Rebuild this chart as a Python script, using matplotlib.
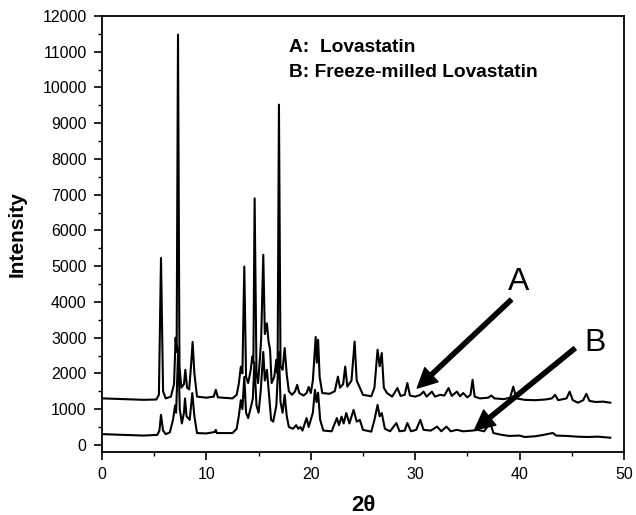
import matplotlib
matplotlib.use("Agg")
import matplotlib.pyplot as plt

# 2theta / intensity, curve A (lovastatin)
theta_a = [0.1, 2.0, 4.0, 5.2, 5.45, 5.65, 5.85, 6.1, 6.6, 6.9, 7.05, 7.15, 7.28, 7.42, 7.6,
           7.85, 7.98, 8.15, 8.35, 8.55, 8.68, 8.85, 9.1, 10.0, 10.7, 10.9, 11.1, 12.5, 12.9,
           13.1, 13.3, 13.45, 13.63, 13.8, 14.0, 14.25, 14.4, 14.5, 14.62, 14.8, 14.95, 15.15,
           15.25, 15.45, 15.6, 15.8, 15.95, 16.1, 16.25, 16.5, 16.7, 16.82, 16.95, 17.1, 17.3,
           17.5, 17.7, 17.9, 18.2, 18.5, 18.7, 18.9, 19.3, 19.6, 19.8, 20.0, 20.2, 20.47, 20.58,
           20.7, 20.85, 21.1, 21.8, 22.3, 22.6, 22.8, 23.1, 23.3, 23.5, 23.9, 24.2, 24.4, 24.7,
           25.0, 25.8, 26.1, 26.4, 26.6, 26.8, 27.0, 27.3, 27.8, 28.3, 28.6, 29.0, 29.25, 29.5,
           30.0, 30.5, 30.8, 31.1, 31.6, 31.9, 32.4, 32.8, 33.2, 33.5, 34.0, 34.3, 34.6, 35.0,
           35.3, 35.5, 35.7, 36.2, 37.0, 37.3, 37.6, 38.5, 39.1, 39.4, 39.7, 40.5, 41.5, 42.5,
           43.1, 43.4, 43.7, 44.5, 44.8, 45.1, 45.6, 46.1, 46.4, 46.7, 47.3, 48.0, 48.7]
int_a = [1300, 1280, 1260, 1270, 1400, 5230, 1500, 1300, 1350, 1700, 3000, 2600, 11480, 2200, 1600,
         1700, 2100, 1600, 1550, 2300, 2880, 2000, 1350, 1320, 1350, 1540, 1330, 1300, 1400,
         1700, 2190, 2000, 4990, 1900, 1730, 2100, 2470, 2300, 6900, 2000, 1730, 2500,
         3000, 5320, 3100, 3400, 2900, 2660, 1730, 1900, 2380, 2000, 9520, 2200, 2100,
         2710, 1960, 1500, 1400, 1500, 1680, 1450, 1380, 1450, 1620, 1450, 1800, 3020, 2300,
         2940, 1900, 1450, 1430, 1500, 1910, 1600, 1700, 2190, 1630, 1800, 2890, 1800, 1600,
         1400, 1360, 1600, 2660, 2200, 2570, 1600, 1450, 1350, 1590, 1370, 1400, 1730, 1380,
         1350, 1400, 1490, 1350, 1490, 1350, 1400, 1380, 1590, 1370, 1490, 1360, 1450, 1330,
         1400, 1820, 1350, 1300, 1320, 1380, 1300, 1280, 1320, 1630, 1300, 1260, 1250, 1270,
         1300, 1400, 1250, 1300, 1490, 1250, 1180, 1250, 1430, 1230, 1200, 1210, 1180]

# curve B (freeze-milled lovastatin)
theta_b = [0.1, 2.0, 4.0, 5.3, 5.5, 5.65, 5.85, 6.1, 6.5, 6.8, 7.0, 7.1, 7.3, 7.45, 7.65, 7.85,
           7.95, 8.1, 8.4, 8.65, 8.85, 9.1, 10.0, 10.8, 10.9, 11.0, 12.5, 12.9, 13.1, 13.3,
           13.45, 13.63, 13.8, 14.0, 14.3, 14.45, 14.6, 14.8, 15.0, 15.2, 15.45, 15.6, 15.8,
           16.0, 16.2, 16.4, 16.7, 16.95, 17.1, 17.3, 17.5, 17.7, 17.9, 18.3, 18.6, 18.8, 19.0,
           19.2, 19.6, 19.8, 20.2, 20.4, 20.55, 20.7, 20.9, 21.2, 22.0, 22.5, 22.7, 22.95, 23.15,
           23.4, 23.7, 24.1, 24.4, 24.7, 25.0, 25.8, 26.1, 26.4, 26.6, 26.8, 27.1, 27.6, 28.2,
           28.5, 29.0, 29.25, 29.6, 30.1, 30.5, 30.8, 31.5, 32.1, 32.5, 33.0, 33.4, 34.0, 34.6,
           35.5, 36.0, 36.6, 37.2, 37.5, 38.3, 39.0, 40.0, 40.5, 41.5, 42.3, 43.2, 43.5, 44.5,
           45.5, 46.5, 47.5, 48.7]
int_b = [300, 280, 260, 280, 400, 840, 400, 300, 350, 700, 1100, 900, 2700, 1000, 600, 900,
         1300, 800, 700, 1450, 800, 330, 320, 360, 420, 330, 330, 450, 800, 1250,
         1000, 1900, 900, 750, 1100, 1300, 2300, 1100, 900, 1500, 2600, 1800, 2100,
         1400, 700, 650, 1100, 2600, 1200, 900, 1400, 800, 500, 450, 550, 450, 500,
         400, 750, 500, 900, 1540, 1200, 1460, 700, 400, 380, 750, 550, 790, 600,
         890, 600, 980, 650, 700, 420, 370, 700, 1120, 800, 890, 450, 380, 610,
         380, 400, 610, 380, 420, 700, 420, 400, 510, 380, 510, 380, 420, 380,
         400, 420, 380, 610, 330, 280, 250, 260, 220, 240, 280, 333, 260, 250,
         230, 220, 230, 200]

plt.rcParams['font.family'] = ['Liberation Sans', 'DejaVu Sans']

fig = plt.figure(figsize=(6.36, 5.15), dpi=100)
ax = fig.add_axes([0.1604, 0.1223, 0.8206, 0.8466])

ax.plot(theta_a, int_a, color='black', lw=1.5)
ax.plot(theta_b, int_b, color='black', lw=1.5)

ax.set_xlim(0, 50)
ax.set_ylim(-200, 12000)
ax.set_xticks(range(0, 51, 10))
ax.set_xticks(range(5, 50, 10), minor=True)
ax.set_yticks(range(0, 12001, 1000))
ax.set_yticks(range(500, 12000, 1000), minor=True)
ax.tick_params(which='major', direction='out', length=6, width=1.2, labelsize=11.5, pad=5)
ax.tick_params(which='minor', direction='out', length=3, width=1.0)
for s in ax.spines.values():
    s.set_linewidth(1.3)

ax.set_ylabel('Intensity', fontsize=15, fontweight='bold', labelpad=11)
ax.set_xlabel('2θ', fontsize=16, fontweight='bold', labelpad=9)

ax.text(17.9, 11130, 'A:  Lovastatin', fontsize=13.8, fontweight='bold', va='center')
ax.text(17.9, 10430, 'B: Freeze-milled Lovastatin', fontsize=13.8, fontweight='bold', va='center')

arrow = dict(width=3, headwidth=14, headlength=14, facecolor='black', edgecolor='black', shrink=0)
ax.annotate('', xy=(30.2, 1590), xytext=(39.2, 4060), arrowprops=arrow)
ax.annotate('', xy=(35.7, 420), xytext=(45.3, 2700), arrowprops=arrow)
ax.text(39.9, 4570, 'A', fontsize=23, ha='center', va='center')
ax.text(47.2, 2850, 'B', fontsize=23, ha='center', va='center')

fig.savefig('out.png', dpi=100)
